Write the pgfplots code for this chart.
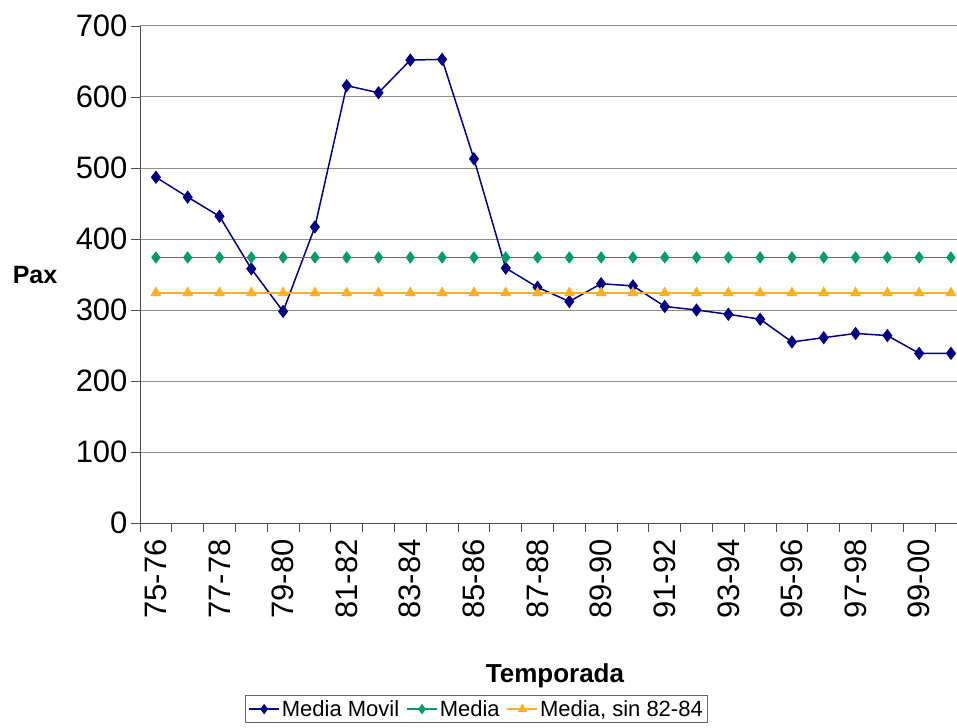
\documentclass[border=0pt]{standalone}
\usepackage{pgfplots}
\pgfplotsset{compat=1.18}
\usepackage{fontspec}
\setmainfont{Liberation Sans}
\definecolor{mblue}{RGB}{0,0,128}
\definecolor{mgreen}{RGB}{0,155,105}
\definecolor{morange}{RGB}{255,176,32}
\begin{document}
\begin{tikzpicture}
\useasboundingbox (-140bp,-205bp) rectangle (817bp,523bp);
\begin{axis}[
  at={(0,0)}, anchor=south west,
  scale only axis, width=817bp, height=497bp,
  xmin=-0.5, xmax=25.19, ymin=0, ymax=700,
  axis x line*=bottom, axis y line*=left,
  axis line style={line width=1pt, draw=black!70},
  ytick={0,100,...,700},
  xtick={-0.5,0.5,...,24.5}, xticklabels={},
  extra x ticks={0,2,...,24},
  extra x tick labels={75-76,77-78,79-80,81-82,83-84,85-86,87-88,89-90,91-92,93-94,95-96,97-98,99-00},
  extra x tick style={major tick length=0pt, tick label style={rotate=90, anchor=east, inner xsep=16bp}},
  tick align=outside, major tick length=9bp,
  tick style={draw=black!70, line width=0.8pt},
  ymajorgrids, grid style={draw=black!45, line width=1pt},
  y tick label style={font=\fontsize{31bp}{36bp}\selectfont},
  x tick label style={font=\fontsize{31bp}{36bp}\selectfont},
  /pgf/number format/assume math mode=true,
  xlabel={\textbf{Temporada}},
  xlabel style={font=\fontsize{26bp}{30bp}\selectfont, at={(axis description cs:0.508,-0.320)}, anchor=base},
  ylabel={\textbf{Pax}},
  ylabel style={font=\fontsize{25bp}{30bp}\selectfont, rotate=-90, at={(axis description cs:-0.1285,0.499)}, anchor=center},
  legend columns=3,
  legend style={at={(axis description cs:0.412,-0.346)}, anchor=north,
    font=\fontsize{22bp}{26bp}\selectfont, draw=black!60, line width=0.8pt,
    inner xsep=3bp, inner ysep=3bp,
    /tikz/every even column/.append style={column sep=5bp}},
  legend image code/.code={\draw[mark repeat=2,mark phase=2,mark size=4bp,#1] plot coordinates {(0bp,0bp)(15bp,0bp)(30bp,0bp)};},
]
\addplot[mblue, line width=1.5bp, mark=diamond*, mark size=5.5bp] coordinates {
(0,487)(1,459)(2,432)(3,358)(4,298)(5,417)(6,616)(7,606)(8,652)(9,653)
(10,513)(11,359)(12,332)(13,312)(14,337)(15,334)(16,305)(17,300)(18,294)(19,287)
(20,255)(21,261)(22,267)(23,264)(24,239)(25,239)};
\addlegendentry{Media Movil}
\addplot[mgreen, line width=1.5bp, mark=diamond*, mark size=5bp] coordinates {
(0,374)(1,374)(2,374)(3,374)(4,374)(5,374)(6,374)(7,374)(8,374)(9,374)
(10,374)(11,374)(12,374)(13,374)(14,374)(15,374)(16,374)(17,374)(18,374)(19,374)
(20,374)(21,374)(22,374)(23,374)(24,374)(25,374)};
\addlegendentry{Media}
\addplot[morange, line width=1.5bp, mark=triangle*, mark size=5bp] coordinates {
(0,324)(1,324)(2,324)(3,324)(4,324)(5,324)(6,324)(7,324)(8,324)(9,324)
(10,324)(11,324)(12,324)(13,324)(14,324)(15,324)(16,324)(17,324)(18,324)(19,324)
(20,324)(21,324)(22,324)(23,324)(24,324)(25,324)};
\addlegendentry{Media, sin 82-84}
\end{axis}
\end{tikzpicture}
\end{document}
